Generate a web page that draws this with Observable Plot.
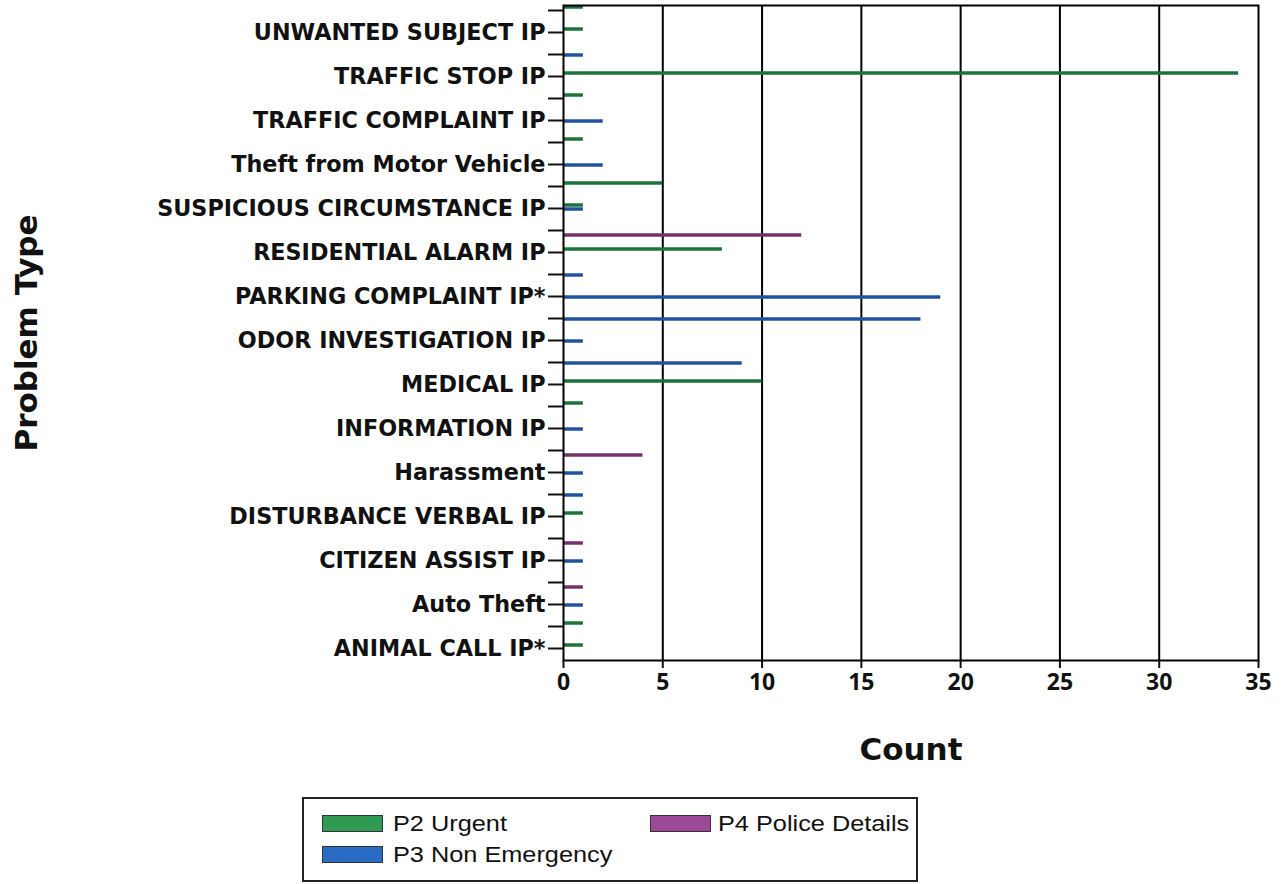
<!DOCTYPE html>
<html>
<head>
<meta charset="utf-8">
<script src="https://cdn.jsdelivr.net/npm/d3@7"></script>
<script src="https://cdn.jsdelivr.net/npm/@observablehq/plot@0.6"></script>
<style>
  html, body { margin: 0; padding: 0; background: #fff; overflow: hidden; }
  #chart svg { display: block; }
  #legend { position: relative; box-sizing: border-box; margin: 7px 0 0 302px; width: 616px; height: 85px; border: 2px solid #222; background: #fff; font-family: "Liberation Sans", Arial, sans-serif; font-size: 22px; color: #111; }
  #legend .sw { position: absolute; width: 61px; height: 17px; box-sizing: border-box; border: 1px solid #333; }
  #legend .lb { position: absolute; line-height: 22px; white-space: nowrap; transform: scaleX(1.15); transform-origin: left center; }
</style>
</head>
<body>
<div id="chart"></div>
<div id="legend"></div>
<script>
// 30 rows from top to bottom; labels shown on every other row
const slotLabels = [
  "", "UNWANTED SUBJECT IP",
  "", "TRAFFIC STOP IP",
  "", "TRAFFIC COMPLAINT IP",
  "", "Theft from Motor Vehicle",
  "", "SUSPICIOUS CIRCUMSTANCE IP",
  "", "RESIDENTIAL ALARM IP",
  "", "PARKING COMPLAINT IP*",
  "", "ODOR INVESTIGATION IP",
  "", "MEDICAL IP",
  "", "INFORMATION IP",
  "", "Harassment",
  "", "DISTURBANCE VERBAL IP",
  "", "CITIZEN ASSIST IP",
  "", "Auto Theft",
  "", "ANIMAL CALL IP*"
];
const p2Urgent        = [1,1,0,34,1,0,1,0,5,1, 0,8,0,0,0,0,0,10,1,0, 0,0,0,1,0,0,0,0,1,1];
const p3NonEmergency  = [0,0,1,0,0,2,0,2,0,1, 0,0,1,19,18,1,9,0,0,1, 0,1,1,0,0,1,0,1,0,0];
const p4PoliceDetails = [0,0,0,0,0,0,0,0,0,0, 12,0,0,0,0,0,0,0,0,0, 4,0,0,0,1,0,1,0,0,0];
const seriesNames = ["P2 Urgent", "P3 Non Emergency", "P4 Police Details"];
const xTicks = [0, 5, 10, 15, 20, 25, 30, 35];

const barColors = ["#1c733a", "#21509f", "#74306a"];
const swatchColors = ["#2f9a52", "#2a6cc4", "#9c4a98"];
const offsets = [-3, 1, 5];

const toRows = vals => vals.map((v, i) => ({i, v})).filter(d => d.v > 0);
const seriesVals = [p2Urgent, p3NonEmergency, p4PoliceDetails];

const inset = (22.03 - 3.5) / 2;
const barMarks = seriesVals.map((vals, k) =>
  Plot.barX(toRows(vals), {x: "v", y: "i", fill: barColors[k], insetTop: inset, insetBottom: inset, dy: offsets[k]})
);

const chart = Plot.plot({
  width: 1283,
  height: 790,
  marginLeft: 563,
  marginRight: 25,
  marginTop: 5,
  marginBottom: 130,
  style: {fontFamily: "'DejaVu Sans', sans-serif", color: "#111", background: "#fff"},
  x: {domain: [0, 35]},
  y: {type: "band", domain: d3.range(slotLabels.length), range: [-2, 659], padding: 0},
  marks: [
    Plot.gridX(xTicks.slice(1, -1), {stroke: "#000", strokeOpacity: 1, strokeWidth: 2}),
    ...barMarks,
    Plot.frame({stroke: "#000", strokeWidth: 2}),
    Plot.axisY({tickSize: 15, tickPadding: 3, tickFormat: i => slotLabels[i], fontSize: 22.3, fontWeight: "bold", strokeWidth: 2, label: null}),
    Plot.axisX(xTicks, {tickSize: 8, tickPadding: 5, fontSize: 23, fontWeight: "bold", fontFamily: "'Open Sans', sans-serif", strokeWidth: 2, label: null}),
    Plot.text(["Count"], {frameAnchor: "bottom", dy: 99, fontSize: 31, fontWeight: "bold", text: d => d}),
    Plot.text(["Problem Type"], {frameAnchor: "left", textAnchor: "middle", dx: -536, rotate: -90, fontSize: 31, fontWeight: "bold", text: d => d})
  ]
});
document.getElementById("chart").appendChild(chart);

// legend
const legend = document.getElementById("legend");
const legendPos = [
  {sx: 18, sy: 16, tx: 89, ty: 14},
  {sx: 18, sy: 47, tx: 89, ty: 45},
  {sx: 346, sy: 16, tx: 414, ty: 14}
];
seriesNames.forEach((name, k) => {
  const p = legendPos[k];
  const sw = document.createElement("div");
  sw.className = "sw";
  sw.style.left = p.sx + "px";
  sw.style.top = p.sy + "px";
  sw.style.background = swatchColors[k];
  legend.appendChild(sw);
  const lb = document.createElement("div");
  lb.className = "lb";
  lb.style.left = p.tx + "px";
  lb.style.top = p.ty + "px";
  lb.textContent = name;
  legend.appendChild(lb);
});
</script>
</body>
</html>
